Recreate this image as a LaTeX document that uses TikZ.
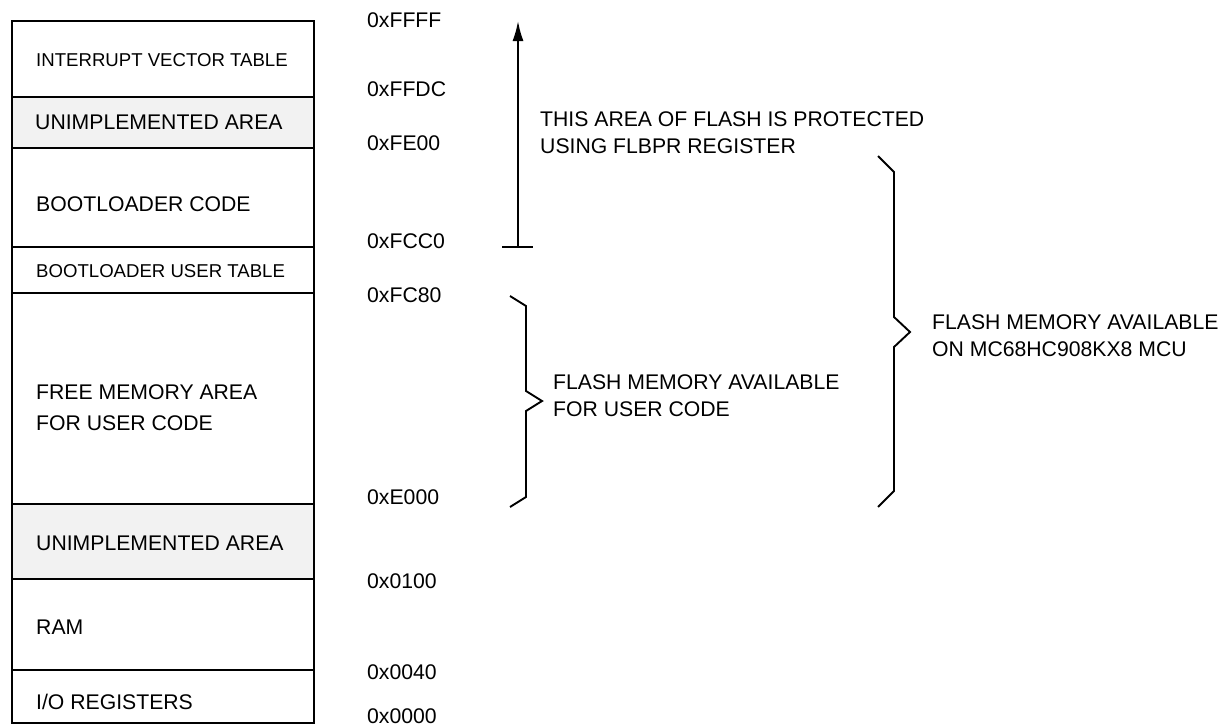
\documentclass[tikz,border=0pt]{standalone}
\usepackage{fontspec}
\setmainfont{Liberation Sans}
\usetikzlibrary{arrows.meta}
\definecolor{unimpl}{HTML}{F2F2F2}
\begin{document}
\begin{tikzpicture}[x=1pt,y=-1pt,
  lbl/.style={anchor=west,inner sep=0pt,font=\fontsize{21.2}{27}\selectfont,align=left},
  small/.style={anchor=west,inner sep=0pt,font=\fontsize{18.6}{24}\selectfont},
  addr/.style={anchor=west,inner sep=0pt,font=\fontsize{21.2}{27}\selectfont},
  boxline/.style={line width=2.8pt},
  thin/.style={line width=1.9pt},
  bracel/.style={line width=1.9pt,line join=miter}]
\useasboundingbox (0,0) rectangle (1225,726);
% memory map column
\fill[unimpl] (12,97) rectangle (314,148);
\fill[unimpl] (12,504) rectangle (314,579);
\draw[boxline] (12,21) rectangle (314,723);
\foreach \yy in {97,148,247,293,504,579,670}
  \draw[boxline] (12,\yy) -- (314,\yy);
% region labels
\node[small] (ivt) at (36,60) {INTERRUPT VECTOR TABLE};
\node[lbl] (un1) at (35,122) {UNIMPLEMENTED AREA};
\node[lbl] (blc) at (36,204) {BOOTLOADER CODE};
\node[small] (but) at (36,271) {BOOTLOADER USER TABLE};
\node[lbl,font=\fontsize{21.2}{31}\selectfont] (free) at (36,407.5) {FREE MEMORY AREA\\FOR USER CODE};
\node[lbl] (un2) at (36,543) {UNIMPLEMENTED AREA};
\node[lbl] (ram) at (36,627) {RAM};
\node[lbl] (io) at (36,702) {I/O REGISTERS};
% addresses
\node[addr] (aFFFF) at (367,20) {0xFFFF};
\node[addr] (aFFDC) at (367,89) {0xFFDC};
\node[addr] (aFE00) at (367,143) {0xFE00};
\node[addr] (aFCC0) at (367,241) {0xFCC0};
\node[addr] (aFC80) at (367,295) {0xFC80};
\node[addr] (aE000) at (367,497) {0xE000};
\node[addr] (a0100) at (367,581) {0x0100};
\node[addr] (a0040) at (367,672) {0x0040};
\node[addr] (a0000) at (367,716) {0x0000};
% protected area arrow
\coordinate (arB) at (518,247);
\coordinate (arT) at (518,21);
\coordinate (tkL) at (502,247);
\coordinate (tkR) at (533,247);
\draw[thin,-{Latex[length=20pt,width=11pt]}] (arB) -- (arT);
\draw[thin] (tkL) -- (tkR);
\node[lbl] (prot) at (540,132.5) {THIS AREA OF FLASH IS PROTECTED\\USING FLBPR REGISTER};
% brace for user code
\coordinate (b1t) at (510,296);
\coordinate (b1b) at (510,507);
\draw[bracel] (b1t) -- (526,306) -- (526,391) -- (542,401) -- (526,411) -- (526,497) -- (b1b);
\node[lbl] (user) at (553,395.5) {FLASH MEMORY AVAILABLE\\FOR USER CODE};
% brace for whole flash
\coordinate (b2t) at (878,156);
\coordinate (b2b) at (878,507);
\draw[bracel] (b2t) -- (894,172) -- (894,317) -- (910,332) -- (894,347) -- (894,491) -- (b2b);
\node[lbl] (mcu) at (932,336) {FLASH MEMORY AVAILABLE\\ON MC68HC908KX8 MCU};
\end{tikzpicture}
\end{document}
